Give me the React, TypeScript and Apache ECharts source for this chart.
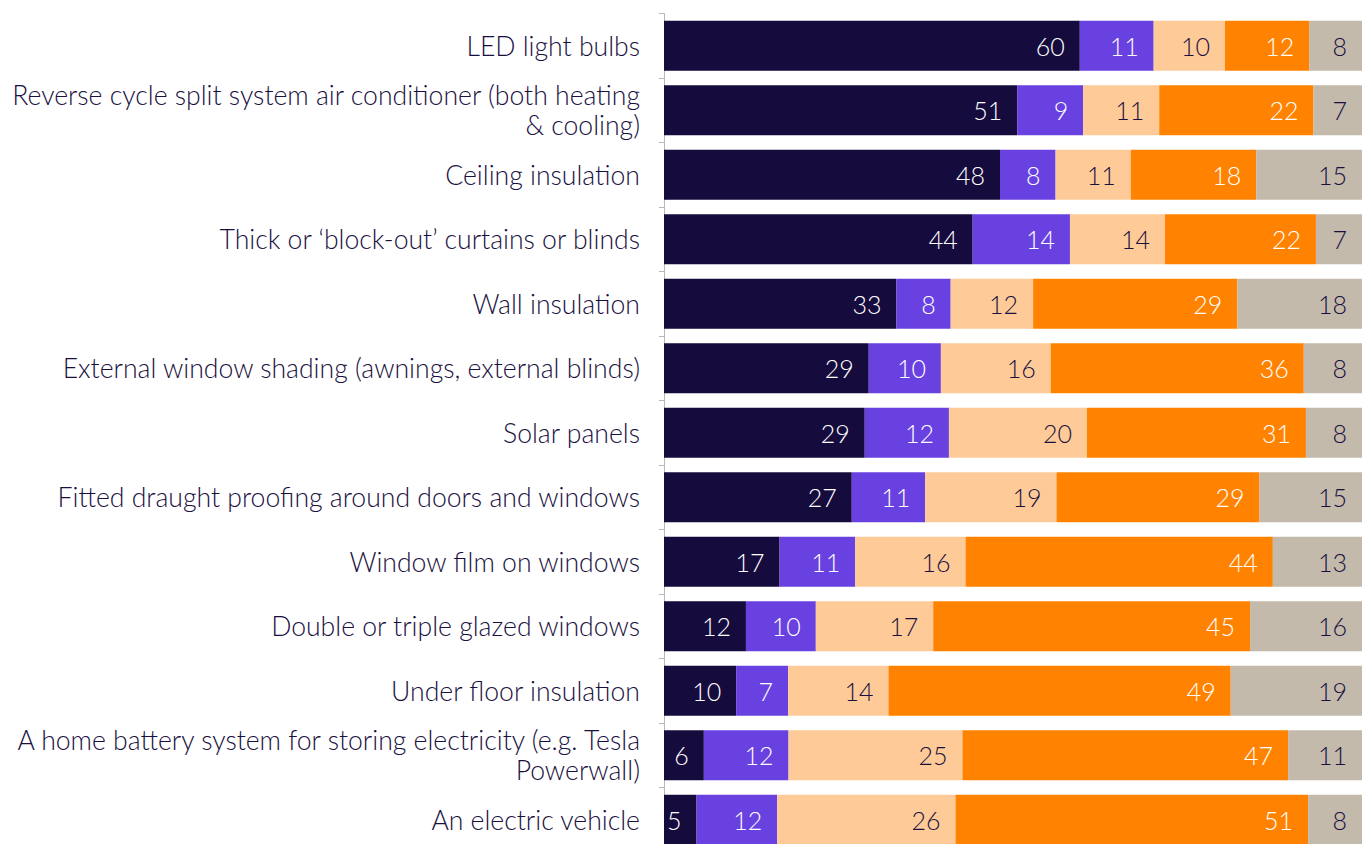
import React, { useEffect, useRef } from "react";
import * as echarts from "echarts";

const categories = [
  "LED light bulbs",
  "Reverse cycle split system air conditioner (both heating\n& cooling)",
  "Ceiling insulation",
  "Thick or \u2018block-out\u2019 curtains or blinds",
  "Wall insulation",
  "External window shading (awnings, external blinds)",
  "Solar panels",
  "Fitted draught proofing around doors and windows",
  "Window film on windows",
  "Double or triple glazed windows",
  "Under floor insulation",
  "A home battery system for storing electricity (e.g. Tesla\nPowerwall)",
  "An electric vehicle",
];

const seriesNames = ["Series 1", "Series 2", "Series 3", "Series 4", "Series 5"];

const values1 = [59.57, 50.6, 48.14, 44.22, 33.3, 29.33, 28.76, 26.9, 16.56, 11.74, 10.34, 5.71, 4.66];
const values2 = [10.58, 9.45, 7.96, 13.94, 7.77, 10.34, 12.06, 10.52, 10.84, 10.01, 7.44, 12.13, 11.55];
const values3 = [10.21, 10.9, 10.78, 13.61, 11.81, 15.73, 19.77, 18.81, 15.8, 16.82, 14.38, 24.92, 25.55];
const values4 = [12.07, 22.1, 17.96, 21.63, 29.26, 36.26, 31.38, 29.08, 44.03, 45.39, 49.03, 46.65, 50.52];
const values5 = [7.57, 6.95, 15.15, 6.61, 17.85, 8.34, 8.03, 14.7, 12.77, 16.04, 18.81, 10.59, 7.72];

const allValues = [values1, values2, values3, values4, values5];
const colors = ["#160b3d", "#6941e0", "#fecb98", "#ff8300", "#c3baab"];
const labelColors = ["#ffffff", "#ffffff", "#1a1040", "#ffffff", "#1a1040"];

const FONT = "Lato, 'Noto Sans', sans-serif";

export default function App() {
  const ref = useRef<HTMLDivElement>(null);
  useEffect(() => {
    if (!ref.current) return;
    const chart = echarts.init(ref.current, null, { renderer: "svg" });
    chart.setOption({
      animation: false,
      grid: { left: 664, right: 0, top: 13.5, bottom: 8, containLabel: false },
      xAxis: { type: "value", min: 0, max: 100, show: false },
      yAxis: {
        type: "category",
        data: categories,
        inverse: true,
        axisLine: { show: true, lineStyle: { color: "#b8b8b8", width: 1 } },
        axisTick: { show: true, length: 5, lineStyle: { color: "#b8b8b8" } },
        axisLabel: {
          margin: 24,
          fontFamily: FONT,
          fontSize: 26.6,
          fontWeight: 300,
          color: "#1a1040",
          lineHeight: 30,
          align: "right",
          padding: [0, 0, 2, 0],
        },
      },
      series: allValues.map((vals, i) => ({
        name: seriesNames[i],
        type: "bar",
        stack: "total",
        barWidth: 50,
        data: vals,
        itemStyle: { color: colors[i] },
        label: {
          show: true,
          position: "insideRight",
          distance: 15,
          fontFamily: FONT,
          fontSize: 25,
          fontWeight: 300,
          color: labelColors[i],
          formatter: (p: any) => String(Math.round(p.value)),
        },
      })),
    });
    return () => chart.dispose();
  }, []);
  return (
    <div style={{ position: "absolute", left: 0, top: 0, width: 1362, height: 844, overflow: "hidden" }}>
      <div ref={ref} style={{ width: 1362, height: 860 }} />
    </div>
  );
}
